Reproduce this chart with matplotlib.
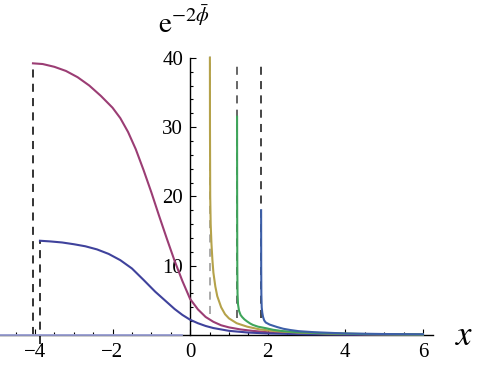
import matplotlib
matplotlib.use("Agg")
import matplotlib.pyplot as plt
from matplotlib.ticker import FixedLocator

plt.rcParams['font.family'] = ['Liberation Serif', 'DejaVu Serif']
plt.rcParams['mathtext.fontset'] = 'stix'
plt.rcParams['lines.scale_dashes'] = False

# curves
purple_x = [-4.05, -3.8, -3.5, -3.2, -2.9, -2.6, -2.3, -2.0, -1.8, -1.6, -1.4,
            -1.2, -1.0, -0.8, -0.6, -0.4, -0.2, 0.0, 0.2, 0.4, 0.6, 0.8, 1.0,
            1.3, 1.6, 2.0, 2.5, 3.0, 4.0, 5.0, 6.0]
purple_y = [39.2, 39.1, 38.7, 38.1, 37.2, 36.0, 34.5, 32.8, 31.3, 29.3, 26.8,
            23.8, 20.6, 17.2, 13.9, 10.7, 7.8, 5.2, 3.7, 2.6, 1.9, 1.4, 1.1,
            0.8, 0.6, 0.4, 0.25, 0.17, 0.09, 0.05, 0.03]

blue_x = [-3.87, -3.6, -3.3, -3.0, -2.7, -2.4, -2.1, -1.8, -1.5, -1.2, -0.9,
          -0.6, -0.4, -0.2, 0.0, 0.2, 0.4, 0.6, 0.8, 1.0, 1.5, 2.0, 3.0, 4.0, 6.0]
blue_y = [13.6, 13.5, 13.35, 13.1, 12.8, 12.35, 11.7, 10.8, 9.6, 7.95, 6.25,
          4.75, 3.75, 2.9, 2.2, 1.7, 1.3, 1.0, 0.8, 0.6, 0.35, 0.22, 0.1, 0.06, 0.03]

olive_x = [0.51, 0.512, 0.518, 0.53, 0.55, 0.575, 0.6, 0.65, 0.7, 0.8, 0.9,
           1.0, 1.2, 1.47, 1.8, 2.2, 2.8, 3.5, 4.5, 6.0]
olive_y = [40.0, 30.0, 20.0, 16.0, 13.2, 10.8, 9.0, 7.0, 5.6, 4.0, 3.0,
           2.4, 1.7, 1.2, 0.8, 0.55, 0.35, 0.22, 0.12, 0.06]

green_x = [1.21, 1.212, 1.216, 1.222, 1.235, 1.26, 1.3, 1.34, 1.4, 1.47, 1.55,
           1.62, 1.75, 1.98, 2.14, 2.4, 2.8, 3.5, 4.5, 6.0]
green_y = [31.5, 20.0, 10.0, 6.0, 4.4, 3.5, 2.9, 2.6, 2.25, 1.95, 1.65,
           1.45, 1.2, 0.95, 0.75, 0.55, 0.4, 0.25, 0.14, 0.08]

spike_x = [1.83, 1.832, 1.836, 1.845, 1.86, 1.88, 1.91, 1.95, 2.05, 2.24, 2.4,
           2.58, 2.8, 3.2, 4.0, 5.0, 6.0]
spike_y = [18.0, 10.0, 6.0, 4.0, 3.2, 2.6, 2.1, 1.8, 1.5, 1.15, 0.9,
           0.72, 0.55, 0.4, 0.22, 0.14, 0.1]

# dashed markers: x, bottom, top, colour
dash_x = [-4.05, -3.87, 0.5, 1.2, 1.83]
dash_lo = [0.0, -1.3, 3.0, 2.5, 2.5]
dash_hi = [39.2, 13.6, 40.2, 39.5, 39.5]
dash_col = ['#333333', '#333333', '#aaaaaa', '#666666', '#444444']

x_major = [-4, -2, 0, 2, 4, 6]
x_labels = ['\u22124', '\u22122', '0', '2', '4', '6']
x_minor = [-4.5, -3.5, -3, -2.5, -1.5, -1, -0.5, 0.5, 1, 1.5, 2.5, 3, 3.5,
           4.5, 5, 5.5]
y_major = [10, 20, 30, 40]
y_minor = [2, 4, 6, 8, 12, 14, 16, 18, 22, 24, 26, 28, 32, 34, 36, 38]

fig = plt.figure(figsize=(4.78, 3.74), dpi=100)
ax = fig.add_axes([0, 0, 1, 1])

for x, lo, hi, c in zip(dash_x, dash_lo, dash_hi, dash_col):
    ax.plot([x, x], [lo, hi], color=c, lw=1.4, dashes=(5.8, 4.5),
            clip_on=False, zorder=2)

ax.plot([-4.9, -0.2], [0, 0], color='#9a9fd4', lw=1.3, zorder=3)
ax.plot(purple_x, purple_y, color='#9b3d74', lw=1.5, zorder=3)
ax.plot(blue_x, blue_y, color='#3f429c', lw=1.5, zorder=3)
ax.plot(olive_x, olive_y, color='#b5a24a', lw=1.5, zorder=3)
ax.plot(green_x, green_y, color='#3fa55b', lw=1.5, zorder=3)
ax.plot(spike_x, spike_y, color='#3d5fa8', lw=1.5, zorder=3)

for s in ['top', 'right']:
    ax.spines[s].set_visible(False)
ax.spines['left'].set_position(('data', 0))
ax.spines['bottom'].set_position(('data', 0))
ax.spines['left'].set_bounds(0, 40)
ax.spines['bottom'].set_bounds(-4.9, 6.26)
ax.spines['left'].set_linewidth(1.0)
ax.spines['bottom'].set_linewidth(1.0)

ax.set_xticks(x_major)
ax.set_xticklabels(x_labels)
ax.xaxis.set_minor_locator(FixedLocator(x_minor))
ax.set_yticks(y_major)
ax.yaxis.set_minor_locator(FixedLocator(y_minor))
ax.set_xlim(-4.90, 7.42)
ax.set_ylim(-5.63, 48.34)
ax.tick_params(which='both', direction='in', width=0.8, labelsize=15)
ax.tick_params(which='major', length=4.5)
ax.tick_params(which='minor', length=2.5)
ax.tick_params(axis='x', pad=6)
ax.tick_params(axis='y', pad=5)

fig.text(158 / 478, 1 - 33 / 374, r'$\mathrm{e}^{-2\bar{\phi}}$', fontsize=21,
         ha='left', va='baseline')
fig.text(455 / 478, 1 - 345 / 374, r'$x$', fontsize=25, ha='left', va='baseline')

fig.savefig('out.png', dpi=100)
